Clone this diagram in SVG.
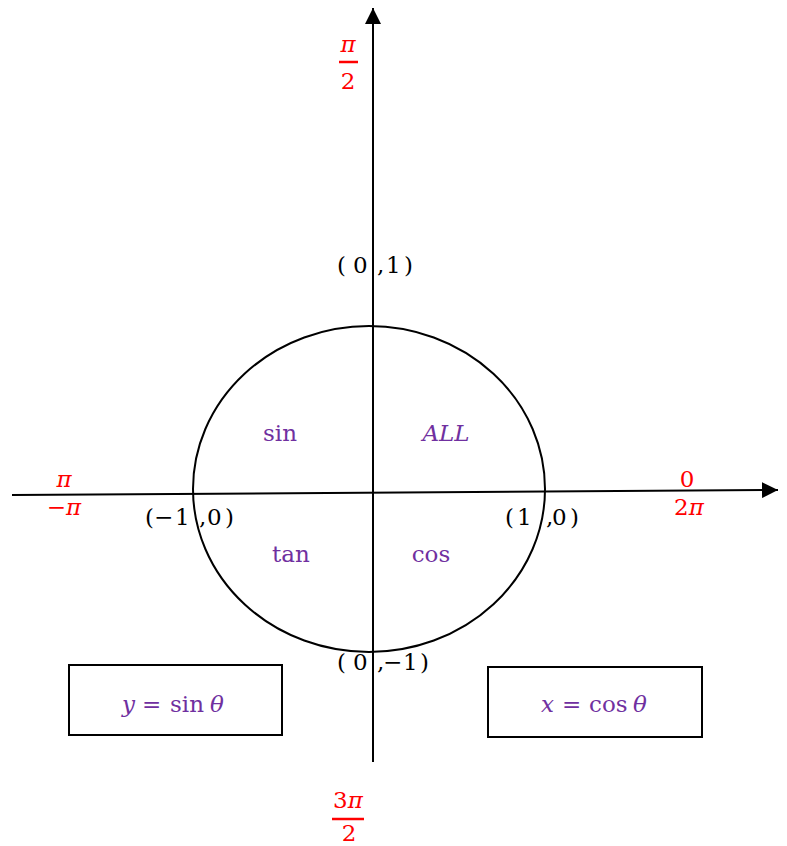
<svg xmlns="http://www.w3.org/2000/svg" width="787" height="846" viewBox="0 0 787 846">
<style>
.t{font-family:"DejaVu Serif","Liberation Serif",serif;font-size:23px;fill:#000}
.r{fill:#FF0000}
.p{fill:#7030A0}
.i{font-style:italic}
.ax{stroke:#000;stroke-width:2;fill:none}
.box{stroke:#000;stroke-width:2;fill:none}
.fb{stroke:#FF0000;stroke-width:2.5}
</style>
<defs>
<marker id="ah2" viewBox="0 0 16 16" refX="16" refY="8" markerWidth="16" markerHeight="16" markerUnits="userSpaceOnUse" orient="auto">
<path d="M0,0 L16,8 L0,16 z" fill="#000"/>
</marker>
</defs>
<rect width="787" height="846" fill="#fff"/>
<g id="connectors">
<line class="ax" x1="373" y1="762" x2="373" y2="8" marker-end="url(#ah2)"/>
<line class="ax" x1="12" y1="495" x2="778" y2="490" marker-end="url(#ah2)"/>
</g>
<g id="circle"><ellipse cx="369" cy="489" rx="176" ry="163" class="ax"/></g>
<g id="top-label">
<text class="t r i" x="348" y="52" text-anchor="middle">π</text>
<line class="fb" x1="339" y1="62" x2="358" y2="62"/>
<text class="t r" x="348" y="89" text-anchor="middle">2</text>
</g>
<g id="bottom-label">
<text class="t r" x="348" y="808" text-anchor="middle">3<tspan class="i">π</tspan></text>
<line class="fb" x1="332" y1="819" x2="364" y2="819"/>
<text class="t r" x="349" y="841" text-anchor="middle">2</text>
</g>
<g id="left-label">
<text class="t r i" x="64" y="487" text-anchor="middle">π</text>
<text class="t r" x="64" y="515" text-anchor="middle">−<tspan class="i">π</tspan></text>
</g>
<g id="right-label">
<text class="t r" x="687" y="487" text-anchor="middle">0</text>
<text class="t r" x="689" y="515" text-anchor="middle">2<tspan class="i">π</tspan></text>
</g>
<g id="pt-top"><text class="t" y="273"><tspan x="337">(</tspan><tspan x="353">0</tspan><tspan x="377">,</tspan><tspan x="386">1</tspan><tspan x="404">)</tspan></text></g>
<g id="pt-bottom"><text class="t" y="670"><tspan x="337">(</tspan><tspan x="353">0</tspan><tspan x="377">,</tspan><tspan x="383">−</tspan><tspan x="403">1</tspan><tspan x="420">)</tspan></text></g>
<g id="pt-left"><text class="t" y="525"><tspan x="145">(</tspan><tspan x="154">−</tspan><tspan x="175">1</tspan><tspan x="199">,</tspan><tspan x="207">0</tspan><tspan x="225">)</tspan></text></g>
<g id="pt-right"><text class="t" y="525"><tspan x="505">(</tspan><tspan x="517">1</tspan><tspan x="546">,</tspan><tspan x="552">0</tspan><tspan x="570">)</tspan></text></g>
<g id="q-sin"><text class="t p" x="280" y="441" text-anchor="middle">sin</text></g>
<g id="q-all"><text class="t p i" x="446" y="441" text-anchor="middle">ALL</text></g>
<g id="q-tan"><text class="t p" x="291" y="562" text-anchor="middle">tan</text></g>
<g id="q-cos"><text class="t p" x="431" y="562" text-anchor="middle">cos</text></g>
<g id="box-sin">
<rect class="box" x="69" y="665" width="213" height="70"/>
<text class="t p" y="712"><tspan class="i" x="122">y</tspan><tspan x="142">=</tspan><tspan x="170">sin</tspan><tspan class="i" x="210">θ</tspan></text>
</g>
<g id="box-cos">
<rect class="box" x="488" y="667" width="214" height="70"/>
<text class="t p" y="712"><tspan class="i" x="541">x</tspan><tspan x="562">=</tspan><tspan x="589">cos</tspan><tspan class="i" x="633">θ</tspan></text>
</g>
</svg>
